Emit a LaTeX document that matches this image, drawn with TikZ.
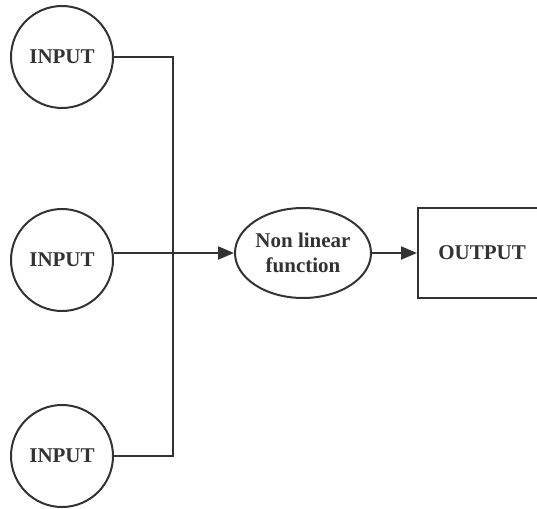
\documentclass[tikz,border=0pt]{standalone}
\usepackage{fontspec}
\setmainfont{Liberation Serif}
\usetikzlibrary{arrows.meta,shapes.geometric}
\definecolor{ink}{HTML}{333333}
\tikzset{
  base/.style={draw=ink, line width=2pt, text=ink, font=\fontsize{21}{25}\selectfont\bfseries, inner sep=0pt},
  inputnode/.style={base, circle, minimum size=102pt},
  fnnode/.style={base, ellipse, minimum width=136pt, minimum height=90pt, align=center},
  outnode/.style={base, rectangle, minimum width=128pt, minimum height=90pt},
  wire/.style={draw=ink, line width=2pt},
  arr/.style={wire, -{Triangle[length=16pt,width=13pt]}}
}
\begin{document}
\begin{tikzpicture}[x=1pt,y=-1pt]
\useasboundingbox (0,0) rectangle (537,508);
\node[inputnode] (in1) at (62,57) {INPUT};
\node[inputnode] (in2) at (62,260) {INPUT};
\node[inputnode] (in3) at (62,456) {INPUT};
\node[fnnode] (fn) at (303,253) {Non linear\\function};
\node[outnode] (out) at (482,253) {OUTPUT};
\coordinate (bus) at (173,253);
\draw[wire] (in1.east) -| (bus);
\draw[wire] (in3.east) -| (bus);
\draw[arr] (in2.east |- fn.west) -- (fn.west);
\draw[arr] (fn.east) -- (out.west);
\end{tikzpicture}
\end{document}
